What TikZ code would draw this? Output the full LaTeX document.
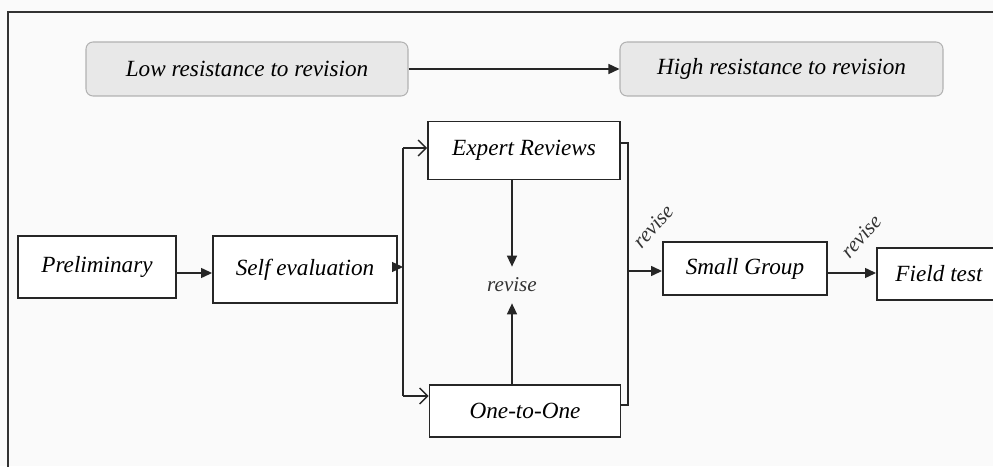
\documentclass[tikz,border=0pt]{standalone}
\usepackage{fontspec}
\setmainfont{Liberation Serif}
\usetikzlibrary{arrows.meta}

\tikzset{
  stagebox/.style={draw=black!85,line width=1.1pt,fill=white,font=\fontsize{13.2}{15}\selectfont\itshape,inner sep=0pt},
  resistbox/.style={draw=black!30,line width=0.6pt,fill=black!9,rounded corners=4pt,font=\fontsize{13.2}{15}\selectfont\itshape,inner sep=0pt},
  flowarrow/.style={line width=0.8pt,draw=black!85,-{Triangle[length=2.2mm,width=2mm]}},
  splitarrow/.style={line width=0.8pt,draw=black!85,-{Straight Barb[length=1.6mm,width=3.2mm]}},
  revisenote/.style={font=\fontsize{12}{14}\selectfont\itshape,text=black!80,inner sep=0pt}
}

\begin{document}
\begin{tikzpicture}
\useasboundingbox (0,0) rectangle (19.86,9.32);
\clip (0,0) rectangle (19.86,9.32);
\fill[black!2] (0,0) rectangle (19.86,9.32);
\draw[line width=1pt,black!80] (0.16,-0.5) -- (0.16,9.08) -- (20.5,9.08);

\node[resistbox,minimum width=6.44cm,minimum height=1.08cm] (low) at (4.94,7.94) {Low resistance to revision};
\node[resistbox,minimum width=6.46cm,minimum height=1.08cm] (high) at (15.63,7.94) {High resistance to revision};
\node[stagebox,minimum width=3.84cm,minimum height=1.16cm] (expert) at (10.48,6.31) {Expert Reviews};
\node[stagebox,minimum width=3.16cm,minimum height=1.24cm] (prelim) at (1.94,3.98) {Preliminary};
\node[stagebox,minimum width=3.68cm,minimum height=1.34cm] (self) at (6.10,3.93) {Self evaluation};
\node[stagebox,minimum width=3.82cm,minimum height=1.04cm] (one) at (10.50,1.10) {One-to-One};
\node[revisenote,minimum height=0.72cm] (revise) at (10.24,3.62) {revise};
\node[stagebox,minimum width=3.28cm,minimum height=1.06cm] (small) at (14.90,3.95) {Small Group};
\node[stagebox,minimum width=2.48cm,minimum height=1.04cm,anchor=west] (field) at (17.52,3.84) {Field test};

\coordinate (splitT) at (8.06,6.36);
\coordinate (splitB) at (8.06,1.40);
\coordinate (joinT) at (12.56,6.46);
\coordinate (joinB) at (12.56,1.22);

\draw[flowarrow] (low) -- (high);
\draw[flowarrow] (prelim.east |- 0,3.86) -- (self.west |- 0,3.86);
\draw[flowarrow] (self.east |- 0,3.98) -- (splitT |- 0,3.98);
\draw[line width=0.8pt,black!85] (splitT) -- (splitB);
\draw[splitarrow] (splitT) -- (expert.west |- splitT);
\draw[splitarrow] (splitB) -- (one.west |- splitB);
\draw[flowarrow] (revise.north |- expert.south) -- (revise.north);
\draw[flowarrow] (revise.south |- one.north) -- (revise.south);
\draw[line width=0.8pt,black!85] (expert.east |- joinT) -- (joinT) -- (joinB) -- (one.east |- joinB);
\draw[flowarrow] (joinT |- 0,3.90) -- (small.west |- 0,3.90);
\draw[flowarrow] (small.east |- 0,3.86) -- (field.west |- 0,3.86);

\node[revisenote,rotate=48] (revA) at (13.06,4.80) {revise};
\node[revisenote,rotate=48] (revB) at (17.22,4.60) {revise};
\end{tikzpicture}
\end{document}
